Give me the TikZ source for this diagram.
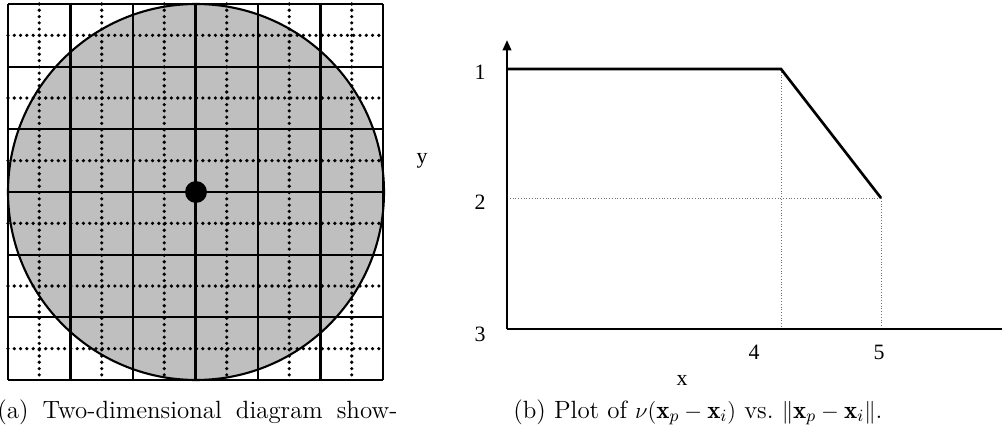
\documentclass[tikz,border=0pt]{standalone}
\usepackage{amsmath,amssymb}
\usepackage{fontspec}
\newfontfamily\timesfont{Liberation Serif}
\usetikzlibrary{arrows.meta,positioning}

\begin{document}
\begin{tikzpicture}[
  x=0.525pt, y=-0.525pt,
  gridline/.style={line width=1.1pt},
  dotline/.style={line width=1.9pt, line cap=round, dash pattern=on 0pt off 3.3pt},
  guide/.style={black!55, line width=0.45pt, densely dotted},
  axis/.style={line width=1.2pt},
  tick/.style={font=\timesfont\fontsize{11.5}{13}\selectfont, inner sep=0pt},
  caption/.style={anchor=base west, inner sep=0pt, font=\fontsize{13.1}{15}\selectfont}
]
\useasboundingbox (0,0) rectangle (1002,429);
% (a) cell grid over the disc
\fill[black!25] (196,192) circle[radius=188];
\foreach \i in {0,...,6} {
  \draw[gridline] (8+62.5*\i,4) -- (8+62.5*\i,380);
  \draw[gridline] (8,4+62.67*\i) -- (383,4+62.67*\i);
}
\foreach \i in {0,...,5} {
  \draw[dotline] (39.25+62.5*\i,4) -- (39.25+62.5*\i,380);
  \draw[dotline] (8,35.33+62.67*\i) -- (383,35.33+62.67*\i);
}
\draw[line width=1.1pt] (196,192) circle[radius=188];
\node[circle, fill, inner sep=0pt, minimum size=11.5pt] (ctr) at (196,192) {};
\node[tick] (ylab) at (422,161) {y};
% (b) weight function
\coordinate (o) at (507,329);
\coordinate (ytip) at (507,40);
\coordinate (xend) at (1004,329);
\coordinate (p1) at (507,69);
\coordinate (k4) at (781,69);
\coordinate (k5) at (881,198);
\draw[guide] (k4) -- (k4 |- o);
\draw[guide] (k5) -- (k5 |- o);
\draw[guide] (o |- k5) -- (k5);
\draw[axis, -{Triangle[length=5.5pt, width=4.5pt]}] (o) -- (ytip);
\draw[axis] (o) -- (xend);
\draw[line width=1.4pt] (p1) -- (k4) -- (k5);
\node[tick] (t1) at (480,72) {1};
\node[tick] (t2) at (480,202) {2};
\node[tick] (t3) at (480,334) {3};
\node[tick] (t4) at (754,352) {4};
\node[tick] (t5) at (879,352) {5};
\node[tick] (xlab) at (682,380) {x};
% captions
\node[caption] (capa) at (-3,418) {\makebox[210pt][s]{(a) Two-dimensional diagram show-}};
\node[caption] (capb) at (513,418) {(b) Plot of $\nu(\mathbf{x}_p-\mathbf{x}_i)$ vs.\ $\|\mathbf{x}_p-\mathbf{x}_i\|$.};
\end{tikzpicture}
\end{document}
